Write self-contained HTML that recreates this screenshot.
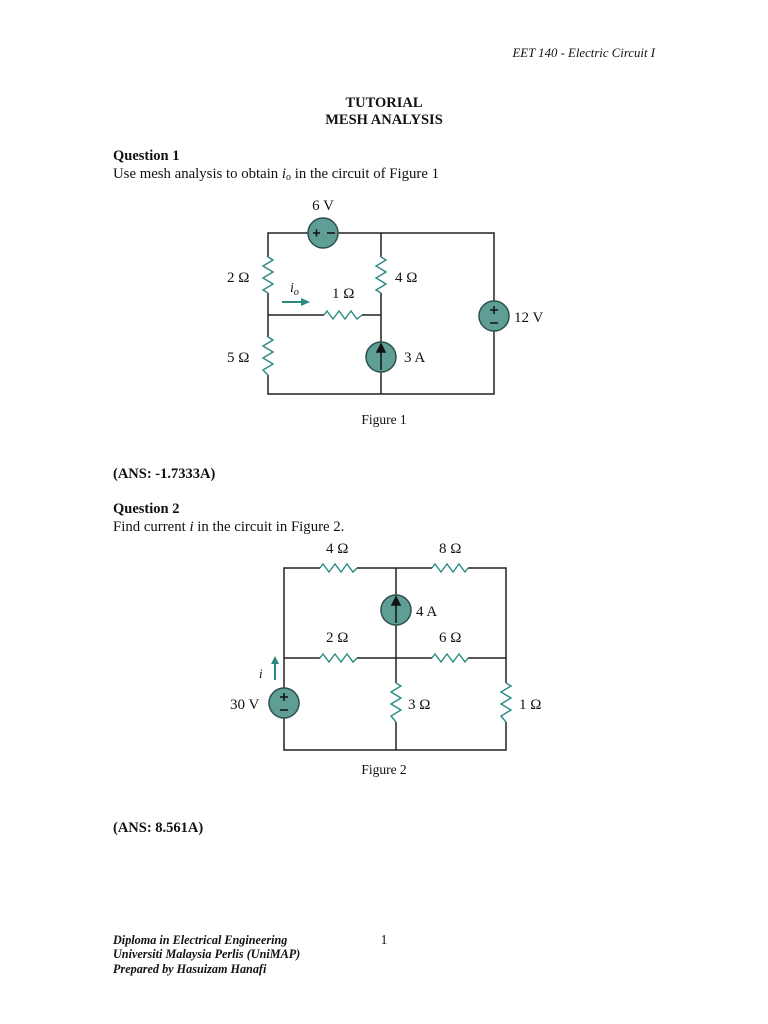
<!DOCTYPE html>
<html><head><meta charset="utf-8"><style>
html,body{margin:0;padding:0;background:#fff;width:768px;height:1024px;overflow:hidden}
svg{display:block}
text{font-family:"Liberation Serif",serif;fill:#111}
</style></head><body>
<svg width="768" height="1024" viewBox="0 0 768 1024" xmlns="http://www.w3.org/2000/svg">
<text x="655" y="57" font-size="12.8" font-style="italic" text-anchor="end">EET 140 - Electric Circuit I</text>
<text x="384" y="107" font-size="14.5" font-weight="bold" text-anchor="middle">TUTORIAL</text>
<text x="384" y="124" font-size="14.5" font-weight="bold" text-anchor="middle">MESH ANALYSIS</text>
<text x="113" y="160" font-size="14.5" font-weight="bold">Question 1</text>
<text x="113" y="178" font-size="14.8">Use mesh analysis to obtain <tspan font-style="italic">i</tspan><tspan font-size="10" dy="2">o</tspan><tspan dy="-2"> in the circuit of Figure 1</tspan></text>

<g stroke="#222" stroke-width="1.5" fill="none">
<path d="M268 257 V233 H308 M338 233 H494 V301 M494 331 V394 H268 V375 M268 337 V293 M381 233 V257 M381 293 V394 M268 315 H324 M362 315 H381"/>
<path d="M284 688 V568 H320 M357 568 H432 M468 568 H506 V683 M506 722 V750 H284 V718 M284 658 H320 M357 658 H432 M468 658 H506 M396 568 V595 M396 625 V683 M396 722 V750"/>
</g>
<g stroke="#2a8a80" stroke-width="1.4" fill="none">
<polyline points="268,257 273,260 263,266 273,272 263,278 273,284 263,290 268,293"/>
<polyline points="381,257 386,260 376,266 386,272 376,278 386,284 376,290 381,293"/>
<polyline points="268,337 273,340 263,346 273,352 263,358 273,364 263,370 268,375"/>
<polyline points="324,315 327,311 333,319 339,311 345,319 351,311 357,319 362,315"/>
<polyline points="320,568 323,564 329,572 335,564 341,572 347,564 353,572 357,568"/>
<polyline points="432,568 435,564 441,572 447,564 453,572 459,564 465,572 468,568"/>
<polyline points="320,658 323,654 329,662 335,654 341,662 347,654 353,662 357,658"/>
<polyline points="432,658 435,654 441,662 447,654 453,662 459,654 465,662 468,658"/>
<polyline points="396,683 401,686 391,692 401,698 391,704 401,710 391,716 396,722"/>
<polyline points="506,683 511,686 501,692 511,698 501,704 511,710 501,716 506,722"/>
<path d="M282 302 H304" stroke-width="2"/>
<path d="M275 680 V662" stroke-width="2"/>
</g>
<polygon points="310,302 301,298 301,306" fill="#2a8a80"/>
<polygon points="275,656 271,664 279,664" fill="#2a8a80"/>
<g fill="#5e9e94" stroke="#2f4f4f" stroke-width="1.5">
<circle cx="323" cy="233" r="15"/>
<circle cx="381" cy="357" r="15"/>
<circle cx="494" cy="316" r="15"/>
<circle cx="396" cy="610" r="15"/>
<circle cx="284" cy="703" r="15"/>
</g>
<g stroke="#111" stroke-width="1.5" fill="#111">
<path d="M381 370 V350"/><polygon points="381,344 377,352 385,352"/>
<path d="M396 623 V603"/><polygon points="396,597 392,605 400,605"/>
<path d="M313 233 h7 M316.5 229.5 v7 M327 233 h8" fill="none"/>
<path d="M490 310 h8 M494 306 v8 M490 323 h8" fill="none"/>
<path d="M280 697 h8 M284 693 v8 M280 710 h8" fill="none"/>
</g>
<g font-size="15">
<text x="323" y="210" text-anchor="middle">6 V</text>
<text x="227" y="282">2 Ω</text>
<text x="395" y="282">4 Ω</text>
<text x="332" y="298">1 Ω</text>
<text x="290" y="292" font-style="italic" font-size="14">i<tspan font-size="10" dy="3">o</tspan></text>
<text x="514" y="322">12 V</text>
<text x="227" y="362">5 Ω</text>
<text x="404" y="362">3 A</text>
<text x="326" y="553">4 Ω</text>
<text x="439" y="553">8 Ω</text>
<text x="416" y="616">4 A</text>
<text x="326" y="642">2 Ω</text>
<text x="439" y="642">6 Ω</text>
<text x="259" y="678" font-style="italic" font-size="13">i</text>
<text x="230" y="709">30 V</text>
<text x="408" y="709">3 Ω</text>
<text x="519" y="709">1 Ω</text>
</g>
<text x="384" y="424" font-size="13.5" text-anchor="middle">Figure 1</text>
<text x="113" y="478" font-size="14.5" font-weight="bold">(ANS: -1.7333A)</text>
<text x="113" y="513" font-size="14.5" font-weight="bold">Question 2</text>
<text x="113" y="531" font-size="14.8">Find current <tspan font-style="italic">i</tspan> in the circuit in Figure 2.</text>
<text x="384" y="774" font-size="13.5" text-anchor="middle">Figure 2</text>
<text x="113" y="832" font-size="14.5" font-weight="bold">(ANS: 8.561A)</text>
<g font-size="12.2" font-weight="bold" font-style="italic">
<text x="113" y="944">Diploma in Electrical Engineering</text>
<text x="113" y="958">Universiti Malaysia Perlis (UniMAP)</text>
<text x="113" y="973">Prepared by Hasuizam Hanafi</text>
</g>
<text x="384" y="944" font-size="13.5" text-anchor="middle">1</text>
</svg>
</body></html>
